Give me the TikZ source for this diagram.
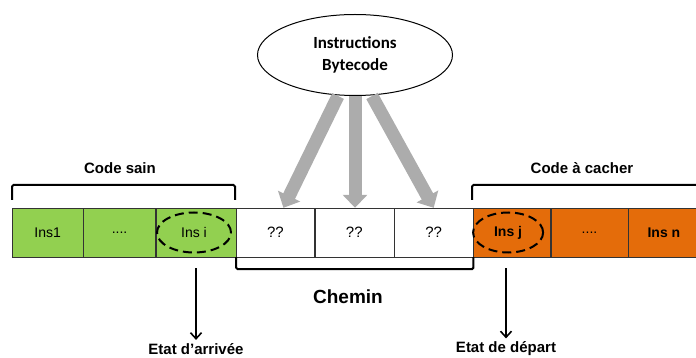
\documentclass[tikz,border=0pt]{standalone}
\usepackage{fontspec}
\setmainfont{Liberation Sans}
\newfontfamily\calibri{Carlito}
\usetikzlibrary{positioning,shapes.geometric,arrows.meta}
\definecolor{vertsain}{HTML}{92D050}
\definecolor{orangecache}{HTML}{E46C0A}
\tikzstyle{cell} = [rectangle,
                    draw=black!80,
                    minimum height=49pt,
                    inner sep=0pt,
                    font=\fontsize{14}{16}\selectfont]
\tikzstyle{greencell} = [cell, fill=vertsain]
\tikzstyle{orangecell} = [cell, fill=orangecache]
\tikzstyle{whitecell} = [cell, fill=white, font=\fontsize{15}{17}\selectfont]
\tikzstyle{zone} = [font=\bfseries\fontsize{15}{17}\selectfont]
\tikzstyle{bracket} = [line width=2pt, rounded corners=1.5pt]
\tikzstyle{fat} = [line width=13pt,
                   gray!65,
                   -{Triangle[width=24pt,length=13pt]}]
\tikzstyle{etat} = [line width=1.6pt,
                    -{Straight Barb[length=6pt,width=11pt]}]
\tikzstyle{marque} = [ellipse, draw, line width=2pt,
                      dash pattern=on 9pt off 5pt]
\tikzstyle{control} = [x=1pt, y=-1pt,
                      node distance=0pt,
                      auto]

\begin{document}
\begin{tikzpicture}[control]
    \useasboundingbox (0,0) rectangle (696,358);
    % rangee d'instructions
    \node (ins1) [greencell, minimum width=71pt, anchor=west] at (12,232.5) {Ins1};
    \node (dots1) [greencell, minimum width=72pt, right=of ins1] {....};
    \node (insi) [greencell, minimum width=80pt, right=of dots1] {};
    \node (q1) [whitecell, minimum width=78pt, right=of insi] {??};
    \node (q2) [whitecell, minimum width=79pt, right=of q1] {??};
    \node (q3) [whitecell, minimum width=79pt, right=of q2] {??};
    \node (insj) [orangecell, minimum width=77pt, right=of q3] {};
    \node (dots2) [orangecell, minimum width=77pt, right=of insj] {....};
    \node (insn) [orangecell, minimum width=71pt, right=of dots2, font=\bfseries\fontsize{14}{16}\selectfont] {Ins n};
    \node (mi) [marque, minimum width=74pt, minimum height=40pt, font=\fontsize{14}{16}\selectfont] at ([xshift=-2pt]insi) {Ins i};
    \node (mj) [marque, minimum width=70pt, minimum height=40pt, font=\bfseries\fontsize{14}{16}\selectfont] at ([xshift=-4pt]insj) {Ins j};
    % accolades
    \draw[bracket] (12,200) -- (12,185) -- (235,185) -- (235,200);
    \draw[bracket] (472,200) -- (472,185) -- (700,185);
    \draw[bracket] (q1.south west) -- ++(0,12) -| (q3.south east);
    \node (sain) [zone] at (120,168) {Code sain};
    \node (cacher) [zone] at (582,168) {Code à cacher};
    \node (chemin) [font=\bfseries\fontsize{19}{21}\selectfont] at (348,297) {Chemin};
    % instructions bytecode
    \node (bytecode) [ellipse, draw, line width=1pt, minimum width=195pt, minimum height=81pt,
                      align=center, font=\calibri\bfseries\fontsize{17}{22}\selectfont] at (355,55) {Instructions\\Bytecode};
    \draw[fat] ([xshift=-17pt]bytecode.south) -- ([xshift=8pt]q1.north);
    \draw[fat] (bytecode.south) -- (q2.north -| bytecode.south);
    \draw[fat] ([xshift=17pt]bytecode.south) -- (q3.north);
    % etats
    \node (arrivee) [zone] at (196,349) {Etat d'arrivée};
    \node (depart) [zone] at (506,349) {Etat de départ};
    \draw[etat] ([yshift=-11pt]insi.south -| arrivee.north) -- (arrivee.north);
    \draw[etat] ([yshift=-11pt]insj.south -| depart.north) -- (depart.north);
\end{tikzpicture}
\end{document}
